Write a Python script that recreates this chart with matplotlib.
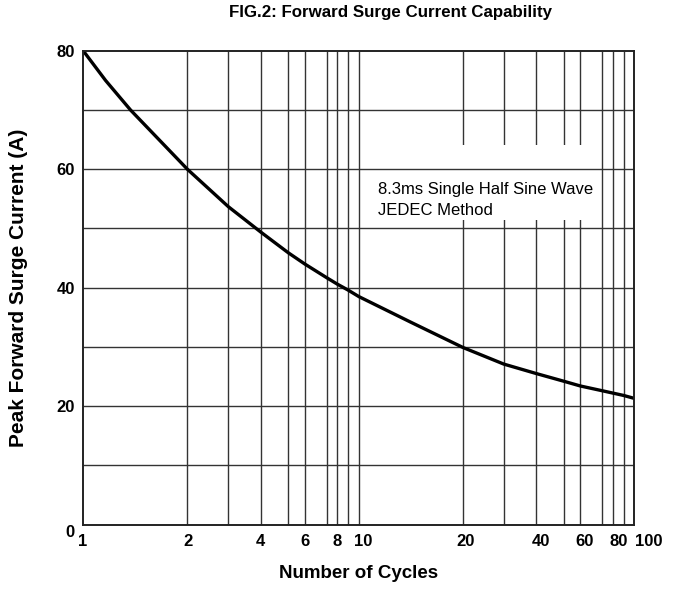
import matplotlib
matplotlib.use("Agg")
import numpy as np
import matplotlib.pyplot as plt
from matplotlib.patches import Rectangle
import matplotlib.transforms as mtransforms

plt.rcParams['font.family'] = ['Liberation Sans', 'DejaVu Sans']

# data
cycles = [1, 1.16, 1.37, 2, 3, 4, 5, 6, 7, 8, 9, 10, 14.1, 20, 30, 40, 50, 60, 70, 80, 90, 100]
current = [80, 75, 70, 60, 53.7, 49.4, 45.9, 44.0, 41.7, 40.6, 39.6, 38.5, 34.2, 29.9,
           27.1, 25.5, 24.2, 23.4, 22.6, 22.2, 21.8, 21.3]

xtick_vals = [1, 2, 4, 6, 8, 10, 20, 40, 60, 80, 100]
xtick_labels = ["1", "2", "4", "6", "8", "10", "20", "40", "60", "80", "100"]
ytick_vals = [0, 20, 40, 60, 80]
vgrid = [2, 3, 4, 5, 6, 7, 8, 9, 10, 20, 30, 40, 50, 60, 70, 80, 90]
hgrid = [10, 20, 30, 40, 50, 60, 70]

# label nudges (pixels) as printed in the original
xlabel_shift = [-1, 1, 0, 0, 0, 4.5, 3, 4.5, 4, 6, 14]

# the printed cycle axis: position of each mantissa line within a decade
scale_mant = np.array([1, 2, 3, 4, 5, 6, 7, 8, 9, 10], dtype=float)
scale_frac = np.array([0, 0.378, 0.526, 0.644, 0.744, 0.804, 0.883, 0.922, 0.961, 1.0])
_logm = np.log10(scale_mant)


def fwd(x):
    x = np.asarray(x, dtype=float)
    x = np.where(x > 0, x, 1e-300)
    lx = np.log10(x)
    d = np.floor(lx + 1e-12)
    f = lx - d
    return d + np.interp(f, _logm, scale_frac)


def inv(y):
    y = np.asarray(y, dtype=float)
    d = np.floor(y + 1e-12)
    f = y - d
    return 10 ** (d + np.interp(f, scale_frac, _logm))


fig = plt.figure(figsize=(6.79, 5.89), dpi=100)
ax = fig.add_axes([0.1227, 0.1095, 0.8115, 0.8041])
ax.set_xscale('function', functions=(fwd, inv))
ax.set_xlim(1, 100)
ax.set_ylim(0, 80)

ax.vlines(vgrid, 0, 80, colors='#333333', linewidth=1.0, zorder=1)
blend = mtransforms.blended_transform_factory(ax.transAxes, ax.transData)
ax.add_patch(Rectangle((0.52, 51.4), 0.414, 12.7, transform=blend,
                       facecolor='white', edgecolor='none', zorder=2))
ax.hlines(hgrid, 1, 100, colors='#333333', linewidth=1.0, zorder=3)

ax.plot(cycles, current, color='black', linewidth=2.4, zorder=4,
        solid_capstyle='round', solid_joinstyle='round')

ax.text(0.534, 56.6, "8.3ms Single Half Sine Wave", transform=blend, fontsize=12,
        va='center', ha='left', zorder=5)
ax.text(0.534, 53.1, "JEDEC Method", transform=blend, fontsize=12,
        va='center', ha='left', zorder=5)

# x ticks at the data positions; labels placed with the printed nudges
ax.set_xticks(xtick_vals)
ax.xaxis.set_minor_locator(matplotlib.ticker.NullLocator())
ax.tick_params(axis='x', length=0, labelbottom=False)
xblend = mtransforms.blended_transform_factory(ax.transData, ax.transAxes)
for v, lab, dx in zip(xtick_vals, xtick_labels, xlabel_shift):
    tr = xblend + mtransforms.ScaledTranslation(dx / 100.0, 0, fig.dpi_scale_trans)
    ax.text(v, -0.036, lab, transform=tr, ha='center', va='center',
            fontweight='bold', fontsize=12, clip_on=False)

ax.set_yticks(ytick_vals)
ax.set_yticklabels([str(v) for v in ytick_vals], fontweight='bold', fontsize=12)
ax.get_yticklabels()[0].set_va('top')
ax.tick_params(axis='y', length=0, pad=6)
for s in ax.spines.values():
    s.set_linewidth(1.4)
    s.set_color('#222222')
    s.set_zorder(6)

ax.set_xlabel("Number of Cycles", fontweight='bold', fontsize=13.5, va='center')
ax.xaxis.set_label_coords(0.5, -0.1045)
ax.set_ylabel("Peak Forward Surge Current (A)", fontweight='bold', fontsize=15, va='center')
ax.yaxis.set_label_coords(-0.1185, 0.5)
fig.text(0.575, 0.979, "FIG.2: Forward Surge Current Capability", fontweight='bold',
         fontsize=12.2, ha='center', va='center')

fig.savefig("out.png", dpi=100)
